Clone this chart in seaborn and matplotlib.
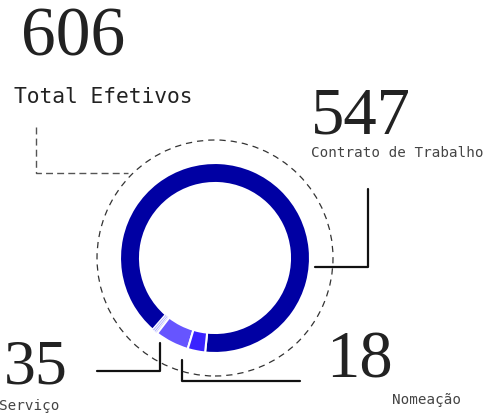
import matplotlib
matplotlib.use("Agg")
import matplotlib.pyplot as plt
import seaborn as sns

# Values
total = 606
categories = ["Contrato de Trabalho", "Outro 1", "Outro 2", "Outro 3", "Serviço", "Nomeação"]
values = [547, 2, 2, 2, 35, 18]
colors = ["#0000a3", "#b8b8ff", "#b8b8ff", "#b8b8ff", "#6655ff", "#3a22ff"]

sns.set_style("white")

W, H = 484, 418
fig = plt.figure(figsize=(W / 100, H / 100), dpi=100)

# background axes in pixel coordinates for text and connector lines
bg = fig.add_axes([0, 0, 1, 1])
bg.set_xlim(0, W)
bg.set_ylim(H, 0)
bg.axis("off")

# donut axes
cx, cy, half = 215, 258, 125
pie_ax = fig.add_axes([(cx - half) / W, (H - cy - half) / H, 2 * half / W, 2 * half / H])
wedges, _ = pie_ax.pie(values, colors=colors, radius=95, startangle=264, counterclock=True,
                       wedgeprops=dict(width=20, edgecolor="white", linewidth=1.5))
# thin slices get thin separators so they stay visible
for w, v in zip(wedges, values):
    if v < 5:
        w.set_linewidth(0.4)
pie_ax.add_patch(plt.Circle((0, 0), 118, fill=False, linestyle=(0, (5, 4)),
                            edgecolor="#333333", linewidth=0.9))
pie_ax.set_xlim(-half, half)
pie_ax.set_ylim(-half, half)
pie_ax.set_aspect("equal")
pie_ax.axis("off")

serif = "Liberation Serif"
mono = "DejaVu Sans Mono"
ink = "#222222"
label_c = "#444444"

# total
bg.text(21, 56, str(total), family=serif, fontsize=50, color=ink, va="baseline")
bg.text(14, 97, "Total Efetivos", family=mono, fontsize=15.3, color="#222222", va="center")
bg.plot([36, 36, 128], [127, 173, 173], color="#555555", lw=1, linestyle=(0, (5, 3)))

# Contrato de Trabalho
bg.text(311, 134, str(values[0]), family=serif, fontsize=48, color=ink, va="baseline")
bg.text(311, 153, categories[0], family=mono, fontsize=10.3, color=label_c, va="center")
bg.plot([315, 368, 368], [267, 267, 189], color="#111111", lw=1.6)

# Serviço
bg.text(4, 384, str(values[4]), family=serif, fontsize=46, color=ink, va="baseline")
bg.text(-1, 406, categories[4], family=mono, fontsize=10.3, color=label_c, va="center")
bg.plot([97, 160, 160], [371, 371, 343], color="#111111", lw=1.6)

# Nomeação
bg.text(326, 377, str(values[5]), family=serif, fontsize=48, color=ink, va="baseline")
bg.text(392, 400, categories[5], family=mono, fontsize=10.3, color=label_c, va="center")
bg.plot([182, 182, 300], [360, 381, 381], color="#111111", lw=1.6)

fig.savefig("out.png", dpi=100, facecolor="white")
